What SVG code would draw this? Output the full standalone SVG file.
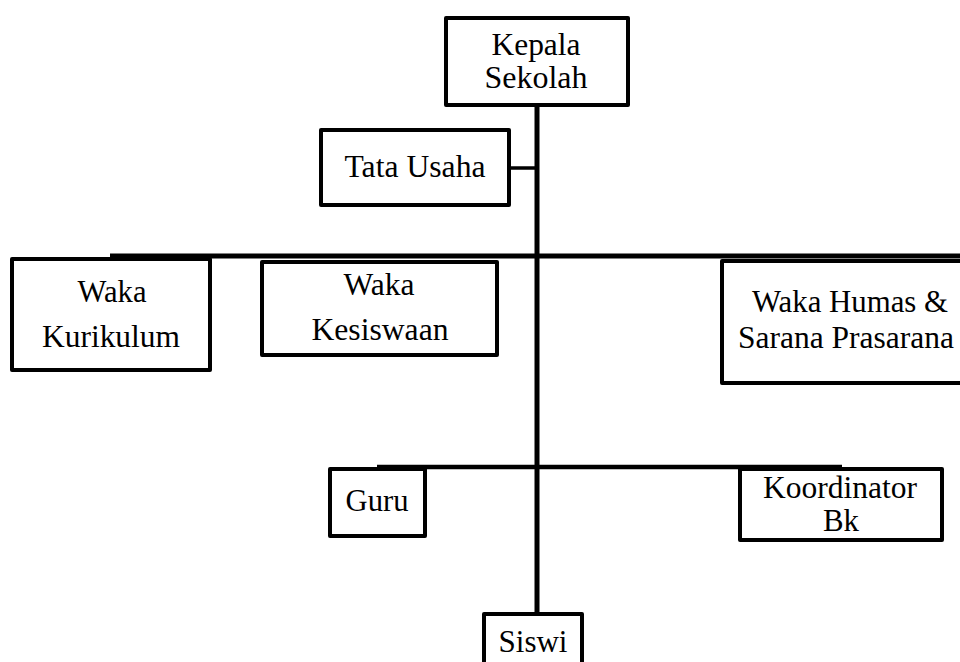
<svg xmlns="http://www.w3.org/2000/svg" width="960" height="662" viewBox="0 0 960 662">
<style>
.box{fill:#fff;stroke:#000;stroke-width:4;stroke-linejoin:round}
.ln{stroke:#000;stroke-width:5;fill:none}
.t{font-family:'Liberation Serif','DejaVu Serif','Times New Roman',serif;font-size:31px;fill:#000;text-anchor:middle}
</style>
<rect width="960" height="662" fill="#fff"/>
<g id="connectors">
<line class="ln" x1="537" y1="105" x2="537" y2="614"/>
<line class="ln" x1="509" y1="168" x2="537" y2="168" style="stroke-width:3.5"/>
<line class="ln" x1="110" y1="256" x2="960" y2="256"/>
<line class="ln" x1="377" y1="467" x2="842" y2="467" style="stroke-width:4.5"/>
</g>
<g id="kepala-sekolah">
<rect class="box" x="446" y="18" width="182" height="87"/>
<text class="t" x="536" y="55" textLength="89" lengthAdjust="spacingAndGlyphs">Kepala</text>
<text class="t" x="536" y="88" textLength="103" lengthAdjust="spacingAndGlyphs">Sekolah</text>
</g>
<g id="tata-usaha">
<rect class="box" x="321" y="130" width="188" height="75"/>
<text class="t" x="415" y="177" textLength="141" lengthAdjust="spacingAndGlyphs">Tata Usaha</text>
</g>
<g id="waka-kurikulum">
<rect class="box" x="12" y="259" width="198" height="111"/>
<text class="t" x="112" y="302" textLength="69" lengthAdjust="spacingAndGlyphs">Waka</text>
<text class="t" x="111" y="347" textLength="138" lengthAdjust="spacingAndGlyphs">Kurikulum</text>
</g>
<g id="waka-kesiswaan">
<rect class="box" x="262" y="262" width="235" height="93"/>
<text class="t" x="379" y="295" textLength="71" lengthAdjust="spacingAndGlyphs">Waka</text>
<text class="t" x="380" y="340" textLength="137" lengthAdjust="spacingAndGlyphs">Kesiswaan</text>
</g>
<g id="waka-humas">
<rect class="box" x="722" y="261" width="260" height="122"/>
<text class="t" x="850" y="312" textLength="196" lengthAdjust="spacingAndGlyphs">Waka Humas &amp;</text>
<text class="t" x="846" y="348" textLength="216" lengthAdjust="spacingAndGlyphs">Sarana Prasarana</text>
</g>
<g id="guru">
<rect class="box" x="330" y="469" width="95" height="67"/>
<text class="t" x="377" y="511" textLength="63" lengthAdjust="spacingAndGlyphs">Guru</text>
</g>
<g id="koordinator-bk">
<rect class="box" x="740" y="469" width="202" height="71"/>
<text class="t" x="840" y="498" textLength="154" lengthAdjust="spacingAndGlyphs">Koordinator</text>
<text class="t" x="841" y="531" textLength="36" lengthAdjust="spacingAndGlyphs">Bk</text>
</g>
<g id="siswi">
<rect class="box" x="484" y="614" width="98" height="60"/>
<text class="t" x="533" y="652" textLength="69" lengthAdjust="spacingAndGlyphs">Siswi</text>
</g>
</svg>
